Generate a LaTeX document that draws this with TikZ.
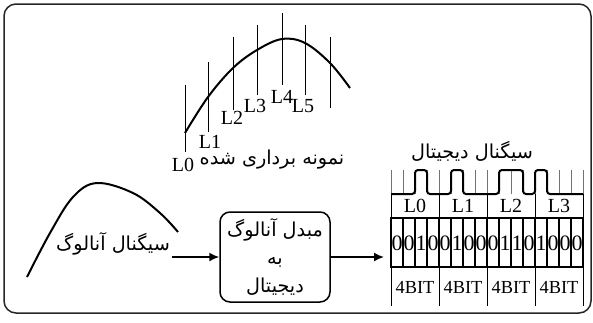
\documentclass[tikz,border=0pt]{standalone}
\usepackage{fontspec}
\setmainfont{Liberation Serif}
\newfontfamily\farsi[Script=Arabic]{DejaVu Sans}
\TeXXeTstate=1
\usetikzlibrary{arrows.meta}
\newcommand{\fatext}[1]{\beginR #1\endR}
\tikzset{
  fa/.style={font=\farsi\fontsize{9.6}{11}\selectfont, inner sep=1pt},
  lat/.style={font=\fontsize{10}{12}\selectfont, inner sep=0pt},
  bitnum/.style={font=\fontsize{11}{12}\selectfont, inner sep=0pt},
  nbits/.style={font=\fontsize{9.2}{11}\selectfont, inner sep=0pt},
  probe/.style={line width=0.5pt},
  wave/.style={line width=1pt, line join=round},
  cell/.style={line width=0.65pt},
  tick/.style={line width=0.35pt, black!55},
  conv/.style={draw, line width=0.75pt, rounded corners=5pt, minimum width=55pt,
    minimum height=45pt, align=center, inner sep=1pt,
    font=\farsi\fontsize{9.6}{14}\selectfont},
  flow/.style={-{Latex[length=5pt,width=4.5pt]}, line width=0.8pt}
}
\begin{document}
\begin{tikzpicture}[x=0.5pt,y=-0.5pt]
\useasboundingbox (0,0) rectangle (593,322);
\draw[line width=0.75pt, rounded corners=6pt, black!85] (4,4) rectangle (591,313);

% sampled signal
\foreach \x/\top/\bot in {185/85/152, 208/62/132, 233/37/110, 257/25/95, 282/13/85, 305/25/95, 330/37/108}
  \draw[probe] (\x,\top) -- (\x,\bot);
\draw[wave] plot[smooth, tension=0.6] coordinates {(185,133) (208,97) (233,68) (257,50) (282,39) (305,43) (330,63) (350,88)};
\foreach \name/\x/\y in {L0/183/165, L1/210/142, L2/232/118, L3/255/106, L4/282/97, L5/303/106}
  \node[lat] (lbl\name) at (\x,\y) {\name};
\node[fa] (sampled) at (272,160) {\fatext{نمونه برداری شده}};

% analog signal and converter
\draw[wave] plot[smooth, tension=0.6] coordinates {(27,277) (50,233) (73,197) (97,183) (133,193) (160,213) (178,232)};
\node[fa] (analog) at (113,244) {\fatext{سیگنال آنالوگ}};
\node[conv] (adc) at (275,257) {\fatext{مبدل آنالوگ}\\\fatext{به}\\\fatext{دیجیتال}};
\coordinate (tabin) at (384,257);
\draw[flow] (analog.east |- adc.west) -- (adc.west);
\draw[flow] (adc.east) -- (tabin);

% digital signal
\node[fa] (digital) at (472,151) {\fatext{سیگنال دیجیتال}};
\foreach \i in {0,...,16}
  \draw[tick] ({391+12*\i},170) -- ({391+12*\i},194);
\draw[wave, rounded corners=1.5pt] (391,194) -| (415,170) -| (427,194) -| (451,170) -| (463,194)
  -| (499,170) -| (523,194) -| (535,170) -| (547,194) -- (583,194);
\foreach \g in {0,...,4}
  \draw[probe] ({391+48*\g},194) -- ({391+48*\g},306);
\draw[cell] (391,218) rectangle (583,267);
\foreach \i in {1,...,15}
  \draw[cell] ({391+12*\i},218) -- ({391+12*\i},267);
\foreach \b [count=\i from 0] in {0,0,1,0,0,1,0,0,0,1,1,0,1,0,0,0}
  \node[bitnum] (bit\i) at ({397+12*\i},243) {\b};
\foreach \g in {0,...,3} {
  \node[lat] (lev\g) at ({415+48*\g},206) {L\g};
  \node[nbits] (nb\g) at ({415+48*\g},287) {4BIT};
}
\end{tikzpicture}
\end{document}
